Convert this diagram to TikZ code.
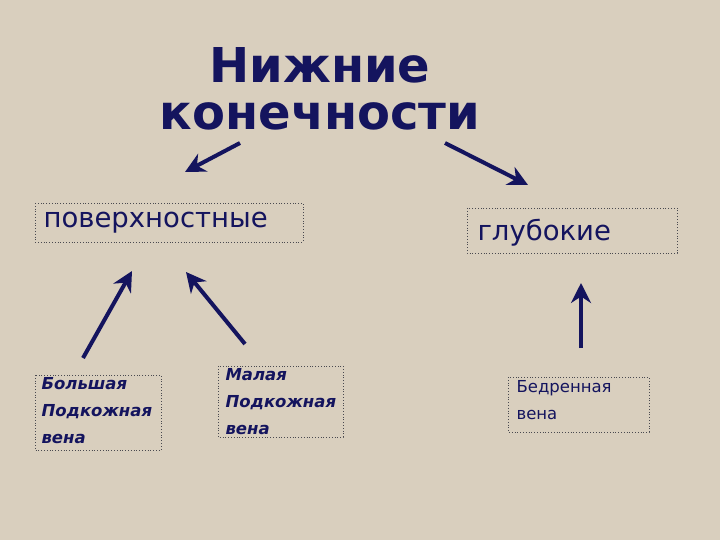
\documentclass[tikz,border=0pt]{standalone}
\usepackage{fontspec}
\setmainfont{DejaVu Sans}
\usetikzlibrary{arrows.meta}
\definecolor{bg}{HTML}{D9CFBE}
\definecolor{navy}{HTML}{14145E}
\definecolor{dot}{HTML}{4A4A50}
\begin{document}
\begin{tikzpicture}[x=1pt,y=-1pt,
  box/.style={draw=dot,dotted,line width=0.8pt,inner sep=0pt},
  big/.style={text=navy,font=\fontsize{27.5}{30}\selectfont,anchor=west},
  small/.style={text=navy,font=\bfseries\itshape\fontsize{16.5}{27}\selectfont,align=left,anchor=north west},
  arr/.style={draw=navy,line width=4pt,-{Stealth[length=20pt,width=20pt]}}]
\fill[bg] (0,0) rectangle (720,540);
\useasboundingbox (0,0) rectangle (720,540);
\node[text=navy,font=\bfseries\fontsize{48}{47}\selectfont,align=center] (t) at (320,89) {Нижние\\конечности};
\draw[box] (35,203) rectangle (303,242);
\node[big] (p) at (40,223) {поверхностные};
\draw[box] (467,208) rectangle (677,253);
\node[big] (g) at (474,233) {глубокие};
\draw[box] (35,375) rectangle (161,450);
\node[small] (b) at (38,374) {Большая\\Подкожная\\вена};
\draw[box] (218,366) rectangle (343,437);
\node[small] (m) at (222,365) {Малая\\Подкожная\\вена};
\draw[box] (508,377) rectangle (649,432);
\node[text=navy,font=\fontsize{16.5}{27}\selectfont,align=left,anchor=north west] (v) at (513,377) {Бедренная\\вена};
\coordinate (a1) at (240,143); \coordinate (a2) at (185,172);
\coordinate (a3) at (445,143); \coordinate (a4) at (528,185);
\coordinate (a5) at (83,358); \coordinate (a6) at (132,271);
\coordinate (a7) at (245,344); \coordinate (a8) at (186,272);
\coordinate (a9) at (581,348); \coordinate (a10) at (581,283);
\draw[arr] (a1) -- (a2);
\draw[arr] (a3) -- (a4);
\draw[arr] (a5) -- (a6);
\draw[arr] (a7) -- (a8);
\draw[arr] (a9) -- (a10);
\end{tikzpicture}
\end{document}
